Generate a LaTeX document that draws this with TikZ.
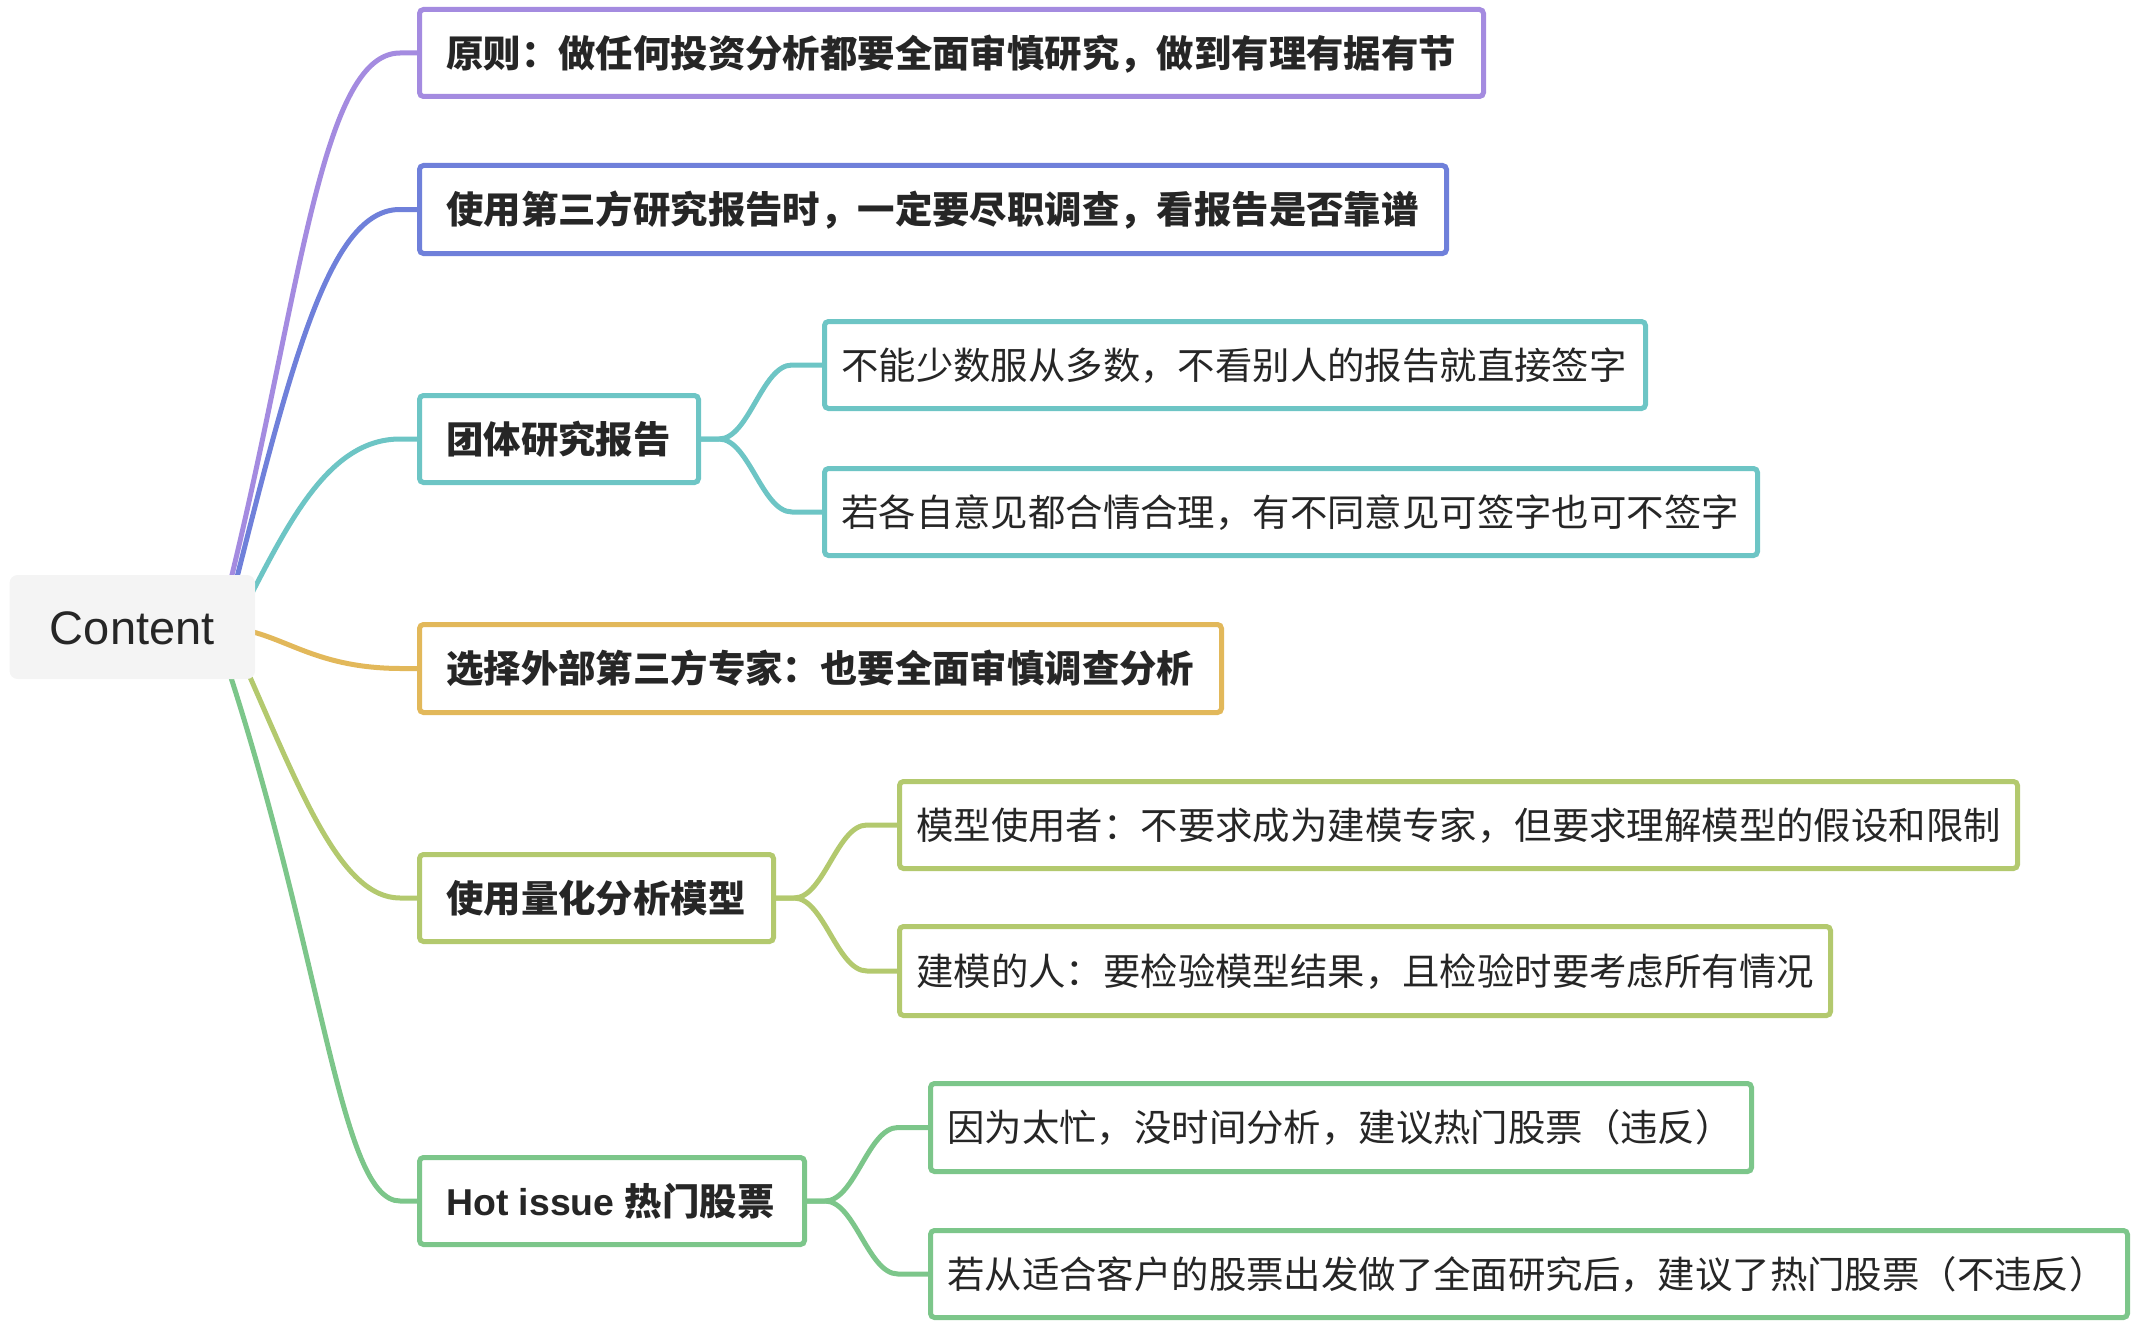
\documentclass[tikz,border=0pt]{standalone}
\usepackage{fontspec}
\setmainfont{Noto Sans CJK SC}
\newfontfamily\latin{Liberation Sans}
\usetikzlibrary{calc}
\pgfdeclarelayer{background}
\pgfsetlayers{background,main}
\definecolor{cpurple}{HTML}{A48BE0}
\definecolor{cblue}{HTML}{6F80DA}
\definecolor{cteal}{HTML}{6DC5C5}
\definecolor{corange}{HTML}{E2B85A}
\definecolor{cyg}{HTML}{B3C96E}
\definecolor{cgreen}{HTML}{7CC68A}
\definecolor{ctext}{HTML}{262626}
\definecolor{croot}{HTML}{F4F4F4}
\tikzset{
  boxnode/.style={draw=#1, line width=5pt, rounded corners=4pt, fill=white, inner sep=0pt, anchor=north west},
  lonetext/.style={anchor=west, inner sep=0pt, text=ctext, font=\fontsize{37.4}{44}\selectfont\bfseries, text height=32.9pt, text depth=4.5pt},
  ltwotext/.style={anchor=west, inner sep=0pt, text=ctext, font=\fontsize{37.4}{44}\selectfont, text height=32.9pt, text depth=4.5pt},
  conn/.style={draw=#1, line width=5pt, line cap=round},
}
\begin{document}
\begin{tikzpicture}[x=1pt,y=-1pt]
\useasboundingbox (0,0) rectangle (2137,1327);
% root
\node[fill=croot, rounded corners=8pt, minimum width=245.5pt, minimum height=104pt, inner sep=0pt, text=ctext, font=\latin\fontsize{47}{56}\selectfont, text height=34pt, text depth=0pt] (root) at (132.3,627) {Content};
% level 1 boxes (anchor at outer edge)
\node[boxnode=cpurple, minimum width=1064pt, minimum height=87pt] (b1) at (417,7) {};
\node[boxnode=cblue, minimum width=1027pt, minimum height=88pt] (b2) at (417,163) {};
\node[boxnode=cteal, minimum width=279pt, minimum height=87pt] (b3) at (417,393) {};
\node[boxnode=corange, minimum width=802pt, minimum height=88pt] (b4) at (417,622) {};
\node[boxnode=cyg, minimum width=354pt, minimum height=87pt] (b5) at (417,852) {};
\node[boxnode=cgreen, minimum width=385pt, minimum height=87pt] (b6) at (417,1155) {};
% level 2 boxes
\node[boxnode=cteal, minimum width=821pt, minimum height=87pt] (b3a) at (822,319) {};
\node[boxnode=cteal, minimum width=933pt, minimum height=87pt] (b3b) at (822,466) {};
\node[boxnode=cyg, minimum width=1118pt, minimum height=87pt] (b5a) at (897,779) {};
\node[boxnode=cyg, minimum width=931pt, minimum height=89pt] (b5b) at (897,924) {};
\node[boxnode=cgreen, minimum width=821pt, minimum height=88pt] (b6a) at (928,1081) {};
\node[boxnode=cgreen, minimum width=1197pt, minimum height=87pt] (b6b) at (928,1228) {};
% texts
\node[lonetext] (t1) at ([xshift=29pt]b1.west) {原则：做任何投资分析都要全面审慎研究，做到有理有据有节};
\node[lonetext] (t2) at ([xshift=29pt]b2.west) {使用第三方研究报告时，一定要尽职调查，看报告是否靠谱};
\node[lonetext] (t3) at ([xshift=29pt]b3.west) {团体研究报告};
\node[lonetext] (t4) at ([xshift=29pt]b4.west) {选择外部第三方专家：也要全面审慎调查分析};
\node[lonetext] (t5) at ([xshift=29pt]b5.west) {使用量化分析模型};
\node[lonetext] (t6) at ([xshift=29pt]b6.west) {{\latin Hot issue }热门股票};
\node[ltwotext] (t3a) at ([xshift=19pt]b3a.west) {不能少数服从多数，不看别人的报告就直接签字};
\node[ltwotext] (t3b) at ([xshift=19pt]b3b.west) {若各自意见都合情合理，有不同意见可签字也可不签字};
\node[ltwotext] (t5a) at ([xshift=19pt]b5a.west) {模型使用者：不要求成为建模专家，但要求理解模型的假设和限制};
\node[ltwotext] (t5b) at ([xshift=19pt]b5b.west) {建模的人：要检验模型结果，且检验时要考虑所有情况};
\node[ltwotext] (t6a) at ([xshift=19pt]b6a.west) {因为太忙，没时间分析，建议热门股票（违反）};
\node[ltwotext] (t6b) at ([xshift=19pt]b6b.west) {若从适合客户的股票出发做了全面研究后，建议了热门股票（不违反）};
% connectors
\begin{pgfonlayer}{background}
\draw[conn=cpurple] ([shift={(96,-37)}]root.center) .. controls (300,300) and (320,53) .. ([xshift=-17pt]b1.west) -- (b1.west);
\draw[conn=cblue] ([shift={(101,-35)}]root.center) .. controls (292,360) and (330,209) .. ([xshift=-17pt]b2.west) -- (b2.west);
\draw[conn=cteal] ([shift={(116,-27)}]root.center) .. controls (290,520) and (330,439) .. ([xshift=-17pt]b3.west) -- (b3.west);
\draw[conn=corange] ([shift={(113,3)}]root.center) .. controls (290,640) and (320,668) .. ([xshift=-17pt]b4.west) -- (b4.west);
\draw[conn=cyg] ([shift={(108,28)}]root.center) .. controls (300,790) and (340,898) .. ([xshift=-17pt]b5.west) -- (b5.west);
\draw[conn=cgreen] ([shift={(93,33)}]root.center) .. controls (324,960) and (340,1201) .. ([xshift=-17pt]b6.west) -- (b6.west);
% level 2
\foreach \p/\c/\col in {b3/b3a/cteal, b3/b3b/cteal, b5/b5a/cyg, b5/b5b/cyg, b6/b6a/cgreen, b6/b6b/cgreen}{
  \draw[conn=\col] (\p.east) -- ([xshift=18pt]\p.east) .. controls ([xshift=48pt]\p.east) and ([xshift=-60pt]\c.west) .. ([xshift=-30pt]\c.west) -- (\c.west);
}
\end{pgfonlayer}
\end{tikzpicture}
\end{document}
